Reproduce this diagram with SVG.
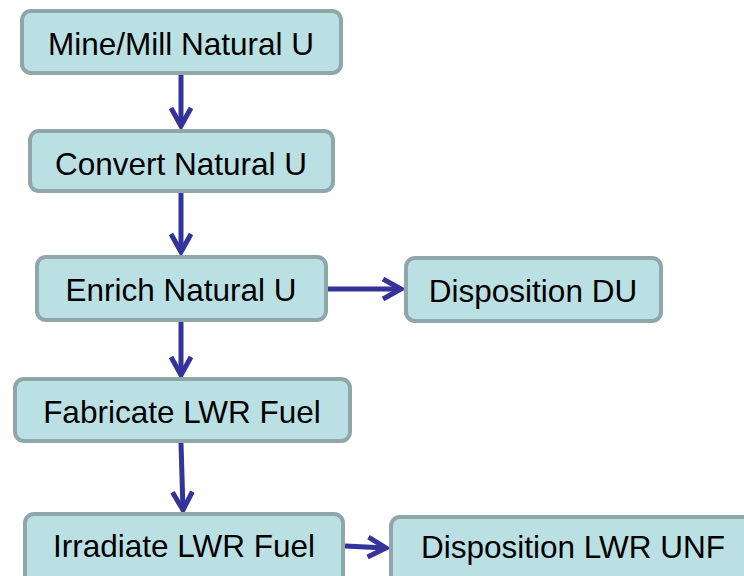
<svg xmlns="http://www.w3.org/2000/svg" width="744" height="576" viewBox="0 0 744 576">
<style>
.box{fill:#BBE0E3;stroke:#8FA7A9;stroke-width:4}
.lbl{font-family:"Liberation Sans",Arial,sans-serif;font-size:31.5px;fill:#000;text-anchor:middle}
.con{stroke:#343399;stroke-width:5;fill:none}
</style>
<defs>
<marker id="ah" markerUnits="userSpaceOnUse" markerWidth="30" markerHeight="30" refX="21" refY="12" orient="auto">
<path d="M3,2 L21,12 L3,22" fill="none" stroke="#343399" stroke-width="5" stroke-linejoin="miter"/>
</marker>
</defs>
<rect width="744" height="576" fill="#fff"/>
<g id="connectors">
<line class="con" x1="181" y1="75" x2="181" y2="126" marker-end="url(#ah)"/>
<line class="con" x1="181" y1="193" x2="181" y2="252" marker-end="url(#ah)"/>
<line class="con" x1="181" y1="322" x2="181" y2="375" marker-end="url(#ah)"/>
<line class="con" x1="181" y1="443" x2="183" y2="510" marker-end="url(#ah)"/>
<line class="con" x1="328" y1="289" x2="401" y2="289" marker-end="url(#ah)"/>
<line class="con" x1="345" y1="546" x2="386" y2="548" marker-end="url(#ah)"/>
</g>
<g id="mine"><rect class="box" x="22" y="11" width="319" height="62" rx="9"/><text class="lbl" x="181" y="55">Mine/Mill Natural U</text></g>
<g id="convert"><rect class="box" x="30" y="131" width="303" height="60" rx="9"/><text class="lbl" x="181" y="175">Convert Natural U</text></g>
<g id="enrich"><rect class="box" x="37" y="257" width="289" height="63" rx="9"/><text class="lbl" x="181" y="301">Enrich Natural U</text></g>
<g id="dispDU"><rect class="box" x="406" y="258" width="255" height="63" rx="9"/><text class="lbl" x="533" y="302">Disposition DU</text></g>
<g id="fabricate"><rect class="box" x="15" y="379" width="335" height="62" rx="9"/><text class="lbl" x="182" y="423">Fabricate LWR Fuel</text></g>
<g id="irradiate"><rect class="box" x="25" y="514" width="318" height="70" rx="9"/><text class="lbl" x="184" y="557">Irradiate LWR Fuel</text></g>
<g id="dispUNF"><rect class="box" x="391" y="517" width="364" height="70" rx="9"/><text class="lbl" x="573" y="558">Disposition LWR UNF</text></g>
</svg>
